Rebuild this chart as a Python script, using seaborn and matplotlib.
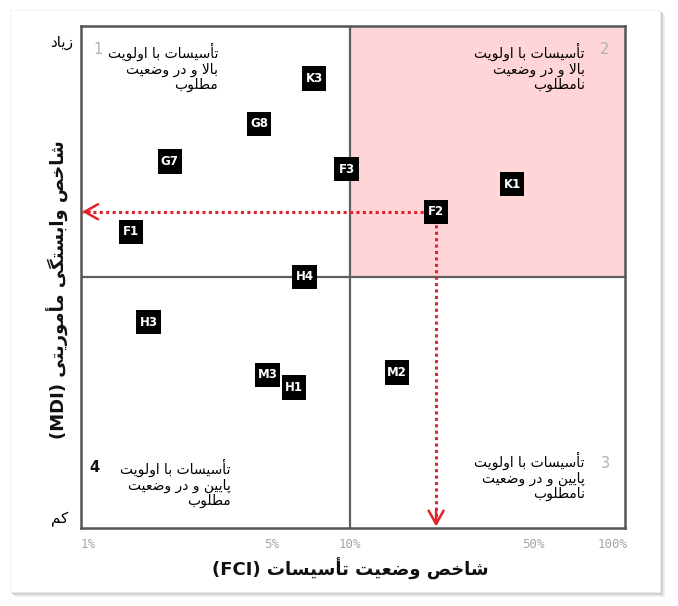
import matplotlib
matplotlib.use("Agg")
import matplotlib.pyplot as plt
import seaborn as sns
import pandas as pd
from matplotlib.patches import Rectangle

# ---------------- data ----------------
labels = ["K3", "G8", "G7", "F3", "K1", "F2", "F1", "H4", "H3", "M3", "H1", "M2"]
fci = [7.3, 4.5, 2.05, 9.7, 41.5, 21.3, 1.46, 6.7, 1.7, 4.85, 6.1, 15.1]
mdi = [8.95, 8.05, 7.3, 7.15, 6.85, 6.3, 5.9, 5.0, 4.1, 3.05, 2.8, 3.1]
xtick_vals = [1, 5, 10, 50, 100]
xtick_labels = ["1%", "5%", "10%", "50%", "100%"]
highlight = "F2"

quad_text = {
    1: "تأسیسات با اولویت\nبالا و در وضعیت\nمطلوب",
    2: "تأسیسات با اولویت\nبالا و در وضعیت\nنامطلوب",
    3: "تأسیسات با اولویت\nپایین و در وضعیت\nنامطلوب",
    4: "تأسیسات با اولویت\nپایین و در وضعیت\nمطلوب",
}
y_high = "زیاد"
y_low = "کم"
x_title = "شاخص وضعیت تأسیسات"
y_title = "شاخص وابستگی مأموریتی"

# ---------------- Persian shaping (presentation forms, visual order) ----------------
FORMS = {
    '\u0627': ('\uFE8D', '\uFE8E', None, None),
    '\u0623': ('\uFE83', '\uFE84', None, None),
    '\u0628': ('\uFE8F', '\uFE90', '\uFE91', '\uFE92'),
    '\u062A': ('\uFE95', '\uFE96', '\uFE97', '\uFE98'),
    '\u062E': ('\uFEA5', '\uFEA6', '\uFEA7', '\uFEA8'),
    '\u062F': ('\uFEA9', '\uFEAA', None, None),
    '\u0631': ('\uFEAD', '\uFEAE', None, None),
    '\u0632': ('\uFEAF', '\uFEB0', None, None),
    '\u0633': ('\uFEB1', '\uFEB2', '\uFEB3', '\uFEB4'),
    '\u0634': ('\uFEB5', '\uFEB6', '\uFEB7', '\uFEB8'),
    '\u0635': ('\uFEB9', '\uFEBA', '\uFEBB', '\uFEBC'),
    '\u0636': ('\uFEBD', '\uFEBE', '\uFEBF', '\uFEC0'),
    '\u0637': ('\uFEC1', '\uFEC2', '\uFEC3', '\uFEC4'),
    '\u0639': ('\uFEC9', '\uFECA', '\uFECB', '\uFECC'),
    '\u0644': ('\uFEDD', '\uFEDE', '\uFEDF', '\uFEE0'),
    '\u0645': ('\uFEE1', '\uFEE2', '\uFEE3', '\uFEE4'),
    '\u0646': ('\uFEE5', '\uFEE6', '\uFEE7', '\uFEE8'),
    '\u0648': ('\uFEED', '\uFEEE', None, None),
    '\u067E': ('\uFB56', '\uFB57', '\uFB58', '\uFB59'),
    '\u06A9': ('\uFB8E', '\uFB8F', '\uFB90', '\uFB91'),
    '\u06AF': ('\uFB92', '\uFB93', '\uFB94', '\uFB95'),
    '\u06CC': ('\uFBFC', '\uFBFD', '\uFBFE', '\uFBFF'),
}
LAM_ALEF = {'\u0627': ('\uFEFB', '\uFEFC'), '\u0623': ('\uFEF7', '\uFEF8')}


def shape(text):
    lines = []
    for line in text.split("\n"):
        ch = list(line)
        out = []
        i = 0
        n = len(ch)
        while i < n:
            c = ch[i]
            if c not in FORMS:
                out.append(c)
                i += 1
                continue
            prev_join = i > 0 and ch[i - 1] in FORMS and FORMS[ch[i - 1]][2] is not None
            if c == '\u0644' and i + 1 < n and ch[i + 1] in LAM_ALEF:
                iso, fin = LAM_ALEF[ch[i + 1]]
                out.append(fin if prev_join else iso)
                i += 2
                continue
            nxt_join = (i + 1 < n and ch[i + 1] in FORMS and FORMS[c][2] is not None)
            iso, fin, ini, med = FORMS[c]
            if prev_join and nxt_join:
                out.append(med)
            elif prev_join:
                out.append(fin)
            elif nxt_join:
                out.append(ini)
            else:
                out.append(iso)
            i += 1
        lines.append("".join(reversed(out)))
    return "\n".join(lines)


# ---------------- figure ----------------
W, H = 678, 606
sns.set_theme(style="white")
plt.rcParams["font.family"] = ["DejaVu Sans"]
plt.rcParams["text.color"] = "black"

fig = plt.figure(figsize=(W / 100, H / 100), dpi=100)
fig.patch.set_facecolor("white")


def fx(x):
    return x / W


def fy(y):
    return 1 - y / H


# card with soft shadow
for off, col in [(5, "#f1f1f1"), (4, "#e6e6e6"), (3, "#d9d9d9"), (2, "#cccccc")]:
    fig.add_artist(Rectangle((fx(10 + off), fy(592 + off)), fx(650), 582 / H,
                             transform=fig.transFigure, facecolor=col,
                             edgecolor="none", zorder=-10))
fig.add_artist(Rectangle((fx(10), fy(592)), fx(650), 582 / H,
                         transform=fig.transFigure, facecolor="white",
                         edgecolor="#f0f0f0", lw=0.5, zorder=-9))

ax = fig.add_axes([fx(81), fy(528), fx(544), 502 / H])
ax.set_facecolor("white")
ax.set_xscale("log")
xmin, xmax = 0.94, 112
ax.set_xlim(xmin, xmax)
ax.set_ylim(0, 10)

# quadrant 2 highlight
ax.add_patch(Rectangle((10, 5), xmax - 10, 5, facecolor="#ffd5d7", edgecolor="none", zorder=0))
ax.axvline(10, color="#5f5f5f", lw=1.6, zorder=1)
ax.axhline(5, color="#5f5f5f", lw=1.6, zorder=1)

for s in ax.spines.values():
    s.set_color("#555555")
    s.set_linewidth(1.8)

df = pd.DataFrame({"label": labels, "fci": fci, "mdi": mdi})

# red dotted arrows from highlight point
hx = df.loc[df.label == highlight, "fci"].iloc[0]
hy = df.loc[df.label == highlight, "mdi"].iloc[0]
red = "#e3222c"
ax.plot([hx, xmin * 1.005], [hy, hy], color=red, lw=2.2, ls=(0, (1, 1.1)), zorder=3)
ax.plot([hx, hx], [hy, 0.05], color=red, lw=2.2, ls=(0, (1, 1.1)), zorder=3)
ax.annotate("", xy=(xmin * 1.01, hy), xytext=(xmin * 1.08, hy),
            arrowprops=dict(arrowstyle="->,head_length=0.8,head_width=0.45",
                            color=red, lw=1.8, shrinkA=0, shrinkB=0), zorder=4)
ax.annotate("", xy=(hx, 0.03), xytext=(hx, 0.35),
            arrowprops=dict(arrowstyle="->,head_length=0.8,head_width=0.45",
                            color=red, lw=1.8, shrinkA=0, shrinkB=0), zorder=4)

sns.scatterplot(data=df, x="fci", y="mdi", marker="s", s=310, color="black",
                edgecolor="none", linewidth=0, ax=ax, zorder=5, legend=False)
for _, r in df.iterrows():
    ax.text(r.fci, r.mdi, r.label, color="white", ha="center", va="center",
            fontsize=8.5, fontweight="bold", zorder=6)

ax.set_xticks(xtick_vals)
ax.set_xticklabels(xtick_labels)
ax.minorticks_off()
ax.set_yticks([])
ax.tick_params(axis="x", length=0, pad=7, labelsize=9, labelcolor="#a6a6a6")
for t in ax.get_xticklabels():
    t.set_family("DejaVu Sans Mono")
ax.set_xlabel("")
ax.set_ylabel("")

# quadrant texts
qfs = 10
fig.text(fx(218), fy(43), shape(quad_text[1]), ha="right", va="top", fontsize=qfs, linespacing=1.1, color="black")
fig.text(fx(585), fy(43), shape(quad_text[2]), ha="right", va="top", fontsize=qfs, linespacing=1.1, color="black")
fig.text(fx(585), fy(452), shape(quad_text[3]), ha="right", va="top", fontsize=qfs, linespacing=1.1, color="black")
fig.text(fx(231), fy(459), shape(quad_text[4]), ha="right", va="top", fontsize=qfs, linespacing=1.1, color="black")
fig.text(fx(98), fy(50), "1", ha="center", va="center", fontsize=10.5, color="#b0b0b0")
fig.text(fx(605), fy(50), "2", ha="center", va="center", fontsize=10.5, color="#b0b0b0")
fig.text(fx(606), fy(463), "3", ha="center", va="center", fontsize=10.5, color="#b0b0b0")
fig.text(fx(94), fy(468), "4", ha="center", va="center", fontsize=10.5, color="#111111", fontweight="bold")

fig.text(fx(62), fy(42), shape(y_high), ha="center", va="center", fontsize=11, color="black")
fig.text(fx(60), fy(519), shape(y_low), ha="center", va="center", fontsize=11, color="black")

fig.text(fx(350), fy(569), "(FCI) " + shape(x_title), ha="center", va="center",
         fontsize=13, fontweight="bold", color="#111111")
fig.text(fx(58), fy(290), "(MDI) " + shape(y_title), ha="center", va="center",
         rotation=90, fontsize=13, fontweight="bold", color="#111111")

fig.savefig("out.png", dpi=100, facecolor="white")
